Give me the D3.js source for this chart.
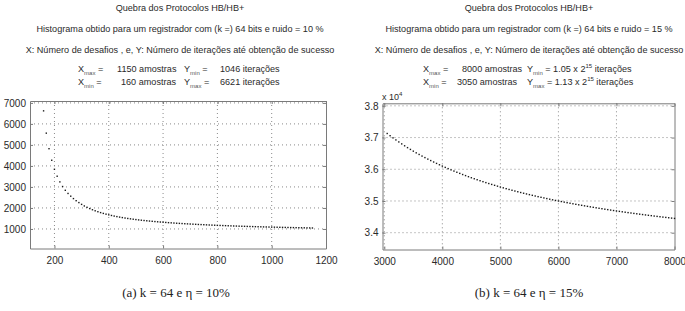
<!DOCTYPE html>
<html><head><meta charset="utf-8">
<script src="https://cdn.jsdelivr.net/npm/d3@7"></script>
<style>body{margin:0;background:#fff}svg{display:block}</style>
</head><body>
<script>
// ---- Data ----
const xA = [160,170,180,190,200,210,220,230,240,250,260,270,280,290,300,310,320,330,340,350,360,370,380,390,400,410,420,430,440,450,460,470,480,490,500,510,520,530,540,550,560,570,580,590,600,610,620,630,640,650,660,670,680,690,700,710,720,730,740,750,760,770,780,790,800,810,820,830,840,850,860,870,880,890,900,910,920,930,940,950,960,970,980,990,1000,1010,1020,1030,1040,1050,1060,1070,1080,1090,1100,1110,1120,1130,1140,1150];
const yA = [6621,5560,4820,4270,3840,3510,3240,3020,2840,2690,2560,2445,2345,2255,2170,2095,2030,1970,1915,1865,1820,1778,1740,1705,1672,1642,1614,1588,1564,1541,1520,1500,1482,1464,1447,1431,1416,1402,1389,1376,1364,1352,1341,1330,1320,1310,1300,1291,1282,1273,1265,1257,1249,1242,1235,1228,1221,1214,1208,1202,1195,1189,1183,1178,1172,1167,1162,1157,1152,1147,1142,1138,1133,1129,1125,1121,1117,1113,1109,1105,1102,1098,1095,1091,1088,1085,1082,1079,1076,1073,1070,1067,1064,1061,1059,1056,1054,1051,1049,1046];
const xB = [3050,3100,3150,3200,3250,3300,3350,3400,3450,3500,3550,3600,3650,3700,3750,3800,3850,3900,3950,4000,4050,4100,4150,4200,4250,4300,4350,4400,4450,4500,4550,4600,4650,4700,4750,4800,4850,4900,4950,5000,5050,5100,5150,5200,5250,5300,5350,5400,5450,5500,5550,5600,5650,5700,5750,5800,5850,5900,5950,6000,6050,6100,6150,6200,6250,6300,6350,6400,6450,6500,6550,6600,6650,6700,6750,6800,6850,6900,6950,7000,7050,7100,7150,7200,7250,7300,7350,7400,7450,7500,7550,7600,7650,7700,7750,7800,7850,7900,7950,8000];
const yB = [37128,37058,36990,36925,36862,36800,36740,36682,36626,36571,36518,36467,36416,36368,36320,36274,36229,36185,36142,36100,36059,36020,35981,35943,35906,35870,35834,35800,35766,35733,35701,35670,35639,35609,35579,35550,35522,35494,35467,35440,35414,35388,35363,35338,35314,35291,35267,35244,35222,35200,35178,35157,35136,35116,35096,35076,35056,35037,35018,35000,34982,34964,34946,34929,34912,34895,34879,34863,34847,34831,34815,34800,34785,34770,34756,34741,34727,34713,34699,34686,34672,34659,34646,34633,34621,34608,34596,34584,34572,34560,34548,34537,34525,34514,34503,34492,34482,34471,34460,34450];
const xTicksA = [200,400,600,800,1000,1200];
const yTicksA = [1000,2000,3000,4000,5000,6000,7000];
const xTicksB = [3000,4000,5000,6000,7000,8000];
const yTicksB = [34000,35000,36000,37000,38000];
const yTickLabelsB = ["3.4","3.5","3.6","3.7","3.8"];
const titleA = ["Quebra dos Protocolos HB/HB+","Histograma obtido para um registrador com (k =) 64 bits e ruido = 10 %","X: Número de desafios , e, Y: Número de iterações até obtenção de sucesso"];
const titleB = ["Quebra dos Protocolos HB/HB+","Histograma obtido para um registrador com (k =) 64 bits e ruido = 15 %","X: Número de desafios , e, Y: Número de iterações até obtenção de sucesso"];
const captionA = "(a) k = 64 e η = 10%";
const captionB = "(b) k = 64 e η = 15%";

const W = 685, H = 311;
const svg = d3.select("body").append("svg").attr("width", W).attr("height", H);
const FONT = "Liberation Sans, Arial, sans-serif";
const TXT = "#2a2a2a";
const FS = 9.1;

function panel(o) {
  const g = svg.append("g");
  const x = d3.scaleLinear().domain(o.xDom).range([o.left, o.right]);
  const y = d3.scaleLinear().domain(o.yDom).range([o.bottom, o.top]);
  g.selectAll(".gx").data(o.xTicks.filter(t => x(t) > o.left + 1 && x(t) < o.right - 1)).join("line")
    .attr("x1", d => x(d)).attr("x2", d => x(d)).attr("y1", o.top).attr("y2", o.bottom)
    .attr("stroke", "#8a8a8a").attr("stroke-width", 1).attr("stroke-dasharray", "1,3");
  g.selectAll(".gy").data(o.yTicks.filter(t => y(t) > o.top + 1 && y(t) < o.bottom - 1)).join("line")
    .attr("y1", d => y(d)).attr("y2", d => y(d)).attr("x1", o.left).attr("x2", o.right)
    .attr("stroke", "#8a8a8a").attr("stroke-width", 1).attr("stroke-dasharray", "1,3");
  const yt = o.yTicks.filter(t => t >= o.yDom[0]);
  g.append("g").attr("transform", `translate(0,${o.bottom})`)
    .call(d3.axisBottom(x).tickValues(o.xTicks).tickFormat(d3.format("d")).tickSizeInner(-3).tickSizeOuter(0).tickPadding(8));
  g.append("g").attr("transform", `translate(${o.left},0)`)
    .call(d3.axisLeft(y).tickValues(yt).tickFormat(d => o.yFmt(d)).tickSizeInner(-3).tickSizeOuter(0).tickPadding(4));
  g.append("g").attr("transform", `translate(0,${o.top})`)
    .call(d3.axisTop(x).tickValues(o.xTicks).tickSizeInner(-3).tickSizeOuter(0).tickFormat(""));
  g.append("g").attr("transform", `translate(${o.right},0)`)
    .call(d3.axisRight(y).tickValues(yt).tickSizeInner(-3).tickSizeOuter(0).tickFormat(""));
  g.selectAll(".domain").attr("stroke", "#7a7a7a").attr("stroke-width", 1);
  g.selectAll(".tick line").attr("stroke", "#7a7a7a");
  g.selectAll(".tick text").attr("font-family", FONT).attr("font-size", 10).attr("fill", TXT);
  g.selectAll(".pt").data(o.xs.map((d, i) => [d, o.ys[i]])).join("rect")
    .attr("x", d => x(d[0]) - 0.7).attr("y", d => y(d[1]) - 0.7)
    .attr("width", 1.4).attr("height", 1.4).attr("fill", "#1a1a1a");
  o.title.forEach((t, i) => {
    svg.append("text").attr("x", o.tcx).attr("y", [11, 31.5, 52.5][i]).attr("text-anchor", "middle")
      .attr("font-family", FONT).attr("font-size", FS).attr("fill", TXT).text(t);
  });
  svg.append("text").attr("x", o.ccx).attr("y", 297).attr("text-anchor", "middle")
    .attr("font-family", "Liberation Serif, DejaVu Serif, serif").attr("font-size", 13).attr("fill", "#222").text(o.caption);
}

function place(xp, yb, letter, sub, extra, sup) {
  const t = svg.append("text").attr("x", xp).attr("y", yb).attr("font-family", FONT).attr("font-size", FS).attr("fill", TXT).attr("xml:space", "preserve");
  t.append("tspan").text(letter);
  t.append("tspan").attr("font-size", 6).attr("dy", 2.5).attr("fill", "#555").text(sub);
  t.append("tspan").attr("dy", -2.5).text(extra);
  if (sup) {
    t.append("tspan").attr("font-size", 6).attr("dy", -4).text(sup[0]);
    t.append("tspan").attr("dy", 4).text(sup[1]);
  }
}
function plain(xp, yb, s) {
  svg.append("text").attr("x", xp).attr("y", yb).attr("font-family", FONT).attr("font-size", FS).attr("fill", TXT).text(s);
}

panel({xs: xA, ys: yA, xDom: [110, 1200], yDom: [70, 7090], left: 30, right: 326, top: 101, bottom: 248.5,
  xTicks: xTicksA, yTicks: yTicksA, yFmt: d => String(d), title: titleA, tcx: 180, caption: captionA, ccx: 176});
panel({xs: xB, ys: yB, xDom: [2969, 8000], yDom: [33470, 38080], left: 382.5, right: 674.5, top: 103.3, bottom: 249.5,
  xTicks: xTicksB, yTicks: yTicksB, yFmt: d => yTickLabelsB[yTicksB.indexOf(d)], title: titleB, tcx: 529, caption: captionB, ccx: 529});

place(78, 72, "X", "max", " =");
plain(117, 72, "1150 amostras");
place(184, 72, "Y", "min", " =");
plain(220, 72, "1046 iterações");
place(78, 85, "X", "min", " =");
plain(121, 85, "160 amostras");
place(184, 85, "Y", "max", " =");
plain(220, 85, "6621 iterações");
place(423, 72, "X", "max", " =");
plain(462, 72, "8000 amostras");
place(527, 72, "Y", "min", " = 1.05 x 2", ["15", " iterações"]);
place(423, 85, "X", "min", " =");
plain(457, 85, "3050 amostras");
place(527, 85, "Y", "max", " = 1.13 x 2", ["15", " iterações"]);
const ex = svg.append("text").attr("x", 382).attr("y", 100).attr("font-family", FONT).attr("font-size", 9).attr("fill", TXT);
ex.append("tspan").text("x 10");
ex.append("tspan").attr("font-size", 6).attr("dy", -4).text("4");
</script>
</body></html>
